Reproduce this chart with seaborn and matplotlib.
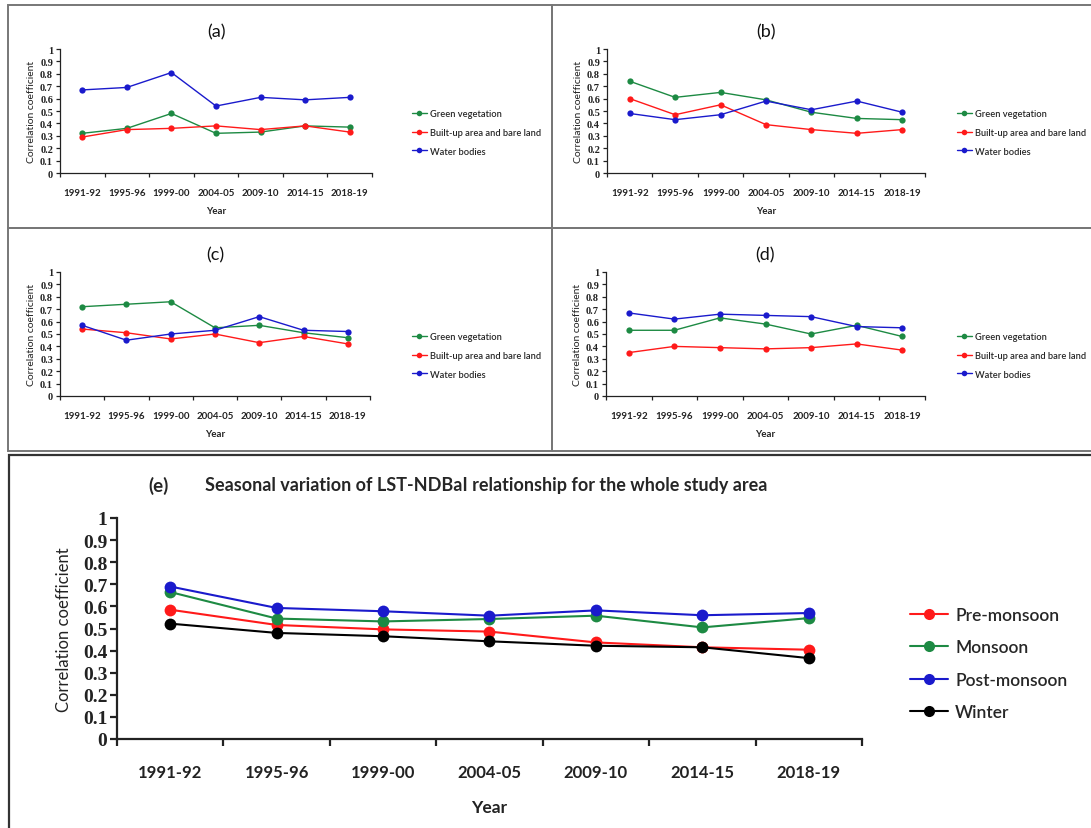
import numpy as np
import pandas as pd
import matplotlib
matplotlib.use("Agg")
import matplotlib.pyplot as plt
import seaborn as sns
from matplotlib.lines import Line2D
from matplotlib.patches import Rectangle
from matplotlib.ticker import FixedLocator, NullFormatter

# ---------------- data ----------------
years = ["1991-92", "1995-96", "1999-00", "2004-05", "2009-10", "2014-15", "2018-19"]
lc_classes = ["Green vegetation", "Built-up area and bare land", "Water bodies"]

a_green = [0.32, 0.36, 0.48, 0.32, 0.33, 0.38, 0.37]
a_red = [0.29, 0.35, 0.36, 0.38, 0.35, 0.38, 0.33]
a_blue = [0.67, 0.69, 0.81, 0.54, 0.61, 0.59, 0.61]

b_green = [0.74, 0.61, 0.65, 0.59, 0.49, 0.44, 0.43]
b_red = [0.60, 0.47, 0.55, 0.39, 0.35, 0.32, 0.35]
b_blue = [0.48, 0.43, 0.47, 0.58, 0.51, 0.58, 0.49]

c_green = [0.72, 0.74, 0.76, 0.55, 0.57, 0.51, 0.47]
c_red = [0.54, 0.51, 0.46, 0.50, 0.43, 0.48, 0.42]
c_blue = [0.57, 0.45, 0.50, 0.53, 0.64, 0.53, 0.52]

d_green = [0.53, 0.53, 0.63, 0.58, 0.50, 0.57, 0.48]
d_red = [0.35, 0.40, 0.39, 0.38, 0.39, 0.42, 0.37]
d_blue = [0.67, 0.62, 0.66, 0.65, 0.64, 0.56, 0.55]

seasons = ["Pre-monsoon", "Monsoon", "Post-monsoon", "Winter"]
e_pre = [0.585, 0.516, 0.496, 0.486, 0.437, 0.415, 0.404]
e_mon = [0.665, 0.545, 0.532, 0.543, 0.558, 0.505, 0.547]
e_post = [0.690, 0.593, 0.578, 0.558, 0.582, 0.560, 0.570]
e_win = [0.522, 0.480, 0.465, 0.442, 0.422, 0.415, 0.366]

ytick_vals = [0, 0.1, 0.2, 0.3, 0.4, 0.5, 0.6, 0.7, 0.8, 0.9, 1]
ytick_labels = ["0", "0.1", "0.2", "0.3", "0.4", "0.5", "0.6", "0.7", "0.8", "0.9", "1"]

GREEN = "#1d8a43"
RED = "#ff1a1a"
BLUE = "#1a1acc"
BLACK = "#000000"

# ---------------- figure ----------------
sns.set_theme(style="white")
plt.rcParams["font.family"] = ["Lato", "DejaVu Sans"]
W, H = 1091, 829
fig = plt.figure(figsize=(W / 100, H / 100), dpi=100)
fig.patch.set_facecolor("white")


def px_axes(l, t, r, b):
    return fig.add_axes([l / W, 1 - b / H, (r - l) / W, (b - t) / H])


def fx(x):
    return x / W


def fy(y):
    return 1 - y / H


def box(l, t, r, b, color, lw):
    fig.add_artist(Rectangle((fx(l), fy(b)), fx(r) - fx(l), fy(t) - fy(b),
                             transform=fig.transFigure, fill=False,
                             edgecolor=color, linewidth=lw, zorder=0))


box(8, 6, 552, 229, "#777777", 1.4)
box(552, 6, 1095, 229, "#777777", 1.4)
box(8, 229, 552, 452, "#777777", 1.4)
box(552, 229, 1095, 452, "#777777", 1.4)
box(9, 456, 1095, 835, "#333333", 1.6)


def style_axes(ax, tick_fs, ytick_fs, lw, tick_len):
    ax.set_xlim(-0.5, len(years) - 0.5)
    ax.set_ylim(0, 1)
    for s in ["top", "right"]:
        ax.spines[s].set_visible(False)
    for s in ["left", "bottom"]:
        ax.spines[s].set_color("#222222")
        ax.spines[s].set_linewidth(lw)
    ax.set_xticks(range(len(years)))
    ax.set_xticklabels(years, fontsize=tick_fs, fontweight="bold", color="#222222")
    ax.xaxis.set_minor_locator(FixedLocator(np.arange(-0.5, len(years), 1.0)))
    ax.xaxis.set_minor_formatter(NullFormatter())
    ax.tick_params(axis="x", which="major", length=0, pad=tick_len + 8)
    ax.tick_params(axis="x", which="minor", length=tick_len, width=lw,
                   direction="out", color="#222222", bottom=True)
    ax.set_yticks(ytick_vals)
    ax.set_yticklabels(ytick_labels, fontsize=ytick_fs, fontweight="bold",
                       family=["Liberation Serif"], color="#222222")
    ax.tick_params(axis="y", which="major", length=tick_len, width=lw,
                   direction="out", color="#222222", left=True, pad=2)
    ax.grid(False)
    ax.set_facecolor("white")


def small_panel(l, t, r, b, label, g, rd, bl, leg_x, leg_y):
    ax = px_axes(l, t, r, b)
    df = pd.DataFrame({
        "Year": years * 3,
        "value": g + rd + bl,
        "cls": [lc_classes[0]] * 7 + [lc_classes[1]] * 7 + [lc_classes[2]] * 7,
    })
    sns.lineplot(data=df, x="Year", y="value", hue="cls", hue_order=lc_classes,
                 palette=[GREEN, RED, BLUE], marker="o", markersize=4.5,
                 markeredgewidth=0, linewidth=1.0, sort=False, ax=ax, legend=False)
    style_axes(ax, 7, 7.5, 0.9, 3)
    ax.set_xlabel("Year", fontsize=7, fontweight="bold", labelpad=6, color="#222222")
    ax.set_ylabel("Correlation coefficient", fontsize=7.5, labelpad=3, color="#222222")
    ax.set_title(label, fontsize=13, pad=9, color="#111111")
    handles = [Line2D([0], [0], color=c, marker="o", markersize=4, markeredgewidth=0, lw=1.0)
               for c in [GREEN, RED, BLUE]]
    fig.legend(handles, lc_classes, loc="upper left",
               bbox_to_anchor=(fx(leg_x), fy(leg_y)), frameon=False,
               prop={"size": 6.7, "weight": "semibold"}, handlelength=1.6,
               handletextpad=0.3, labelspacing=1.05, borderpad=0, borderaxespad=0)
    return ax


small_panel(60, 50, 372, 174, "(a)", a_green, a_red, a_blue, 412, 110)
small_panel(607, 50, 925, 174, "(b)", b_green, b_red, b_blue, 957, 110)
small_panel(60, 273, 370, 397, "(c)", c_green, c_red, c_blue, 412, 333)
small_panel(606, 273, 925, 397, "(d)", d_green, d_red, d_blue, 957, 333)

# ---------------- panel (e) ----------------
axe = px_axes(117, 519, 862, 740)
dfe = pd.DataFrame({
    "Year": years * 4,
    "value": e_pre + e_mon + e_post + e_win,
    "season": sum([[s] * 7 for s in seasons], []),
})
sns.lineplot(data=dfe, x="Year", y="value", hue="season", hue_order=seasons,
             palette=[RED, GREEN, BLUE, BLACK], marker="o", markersize=8.5,
             markeredgewidth=0, linewidth=1.5, sort=False, ax=axe, legend=False)
style_axes(axe, 12, 14, 1.6, 5)
axe.tick_params(axis="x", which="major", pad=18)
axe.set_xlabel("Year", fontsize=12.5, fontweight="bold", labelpad=14, color="#222222")
axe.set_ylabel("Correlation coefficient", fontsize=12, labelpad=8, color="#222222")
fig.text(fx(148), fy(486), "(e)", fontsize=13.5, fontweight="bold", va="center", ha="left")
fig.text(fx(205), fy(486), "Seasonal variation of LST-NDBaI relationship for the whole study area",
         fontsize=13, fontweight="bold", va="center", ha="left")
handles_e = [Line2D([0], [0], color=c, marker="o", markersize=8, markeredgewidth=0, lw=1.5)
             for c in [RED, GREEN, BLUE, BLACK]]
fig.legend(handles_e, seasons, loc="upper left", bbox_to_anchor=(fx(910), fy(608)),
           frameon=False, prop={"size": 12.5, "weight": "semibold"}, handlelength=2.2,
           handletextpad=0.4, labelspacing=0.95, borderpad=0, borderaxespad=0)

fig.savefig("out.png", dpi=100, facecolor="white")
